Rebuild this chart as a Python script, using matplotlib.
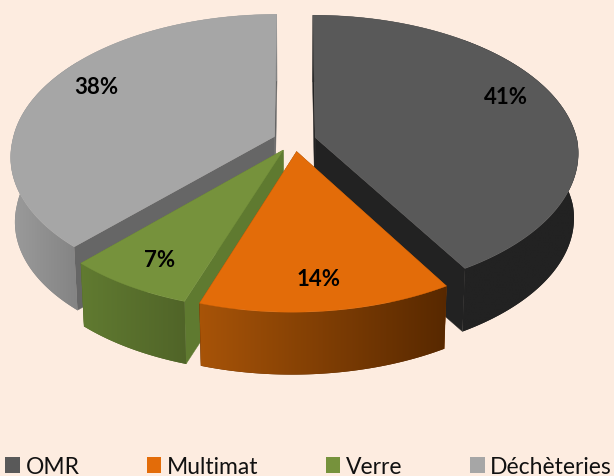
import numpy as np
import matplotlib
matplotlib.use("Agg")
import matplotlib.pyplot as plt
from matplotlib.colors import to_rgb
from matplotlib.patches import Patch, Polygon

# Datos
categorias = ["OMR", "Multimat", "Verre", "Déchèteries"]
valores = [41.3, 13.7, 6.9, 38.1]

# Colores
fondo = "#fdece0"
color_cara = ["#595959", "#e36c09", "#76923c", "#a6a6a6"]
color_pared = ["#222222", "#8a4206", "#5f7a30", "#666666"]
lado_ini = ["#222222", "#a85408", "#617b31", "#9c9c9c"]
lado_fin = ["#222222", "#572800", "#506428", "#848484"]
orden = [3, 0, 2, 1]  # de atras hacia adelante
pos_etiqueta = [(506, 98), (319, 280), (160, 261), (96, 88)]

# Geometria del pastel en pixeles
cx, cy = 294.5, 141.5
rx, ry = 262, 138
persp = 0.1225
sesgo = 5
alto = 65
escala_base = 0.985
explosion_x = 0.082
explosion_y = 0.08


def proyectar(x, y, base=False):
    w = 1 - persp * y
    # el sesgo solo afecta la mitad delantera, los bordes de atras quedan verticales
    sx = cx + rx * x / w - sesgo * np.maximum(y, 0)
    sy = cy + ry * y / w
    if base:
        sx = cx + (sx - cx) * escala_base
        sy = cy + (sy - cy) * escala_base + alto
    return sx, sy


fig = plt.figure(figsize=(6.14, 4.77), dpi=100, facecolor=fondo)
ax = fig.add_axes([0, 0, 1, 1])
ax.axis("off")

fracciones = np.array(valores) / sum(valores)
fin = np.cumsum(fracciones) * 2 * np.pi
inicio = fin - fracciones * 2 * np.pi

z = 1
for i in orden:
    medio = (inicio[i] + fin[i]) / 2
    ox = explosion_x * np.sin(medio)
    oy = -explosion_y * np.cos(medio)
    t = np.linspace(inicio[i], fin[i], 300)
    arco_x, arco_y = ox + np.sin(t), oy - np.cos(t)

    # paredes radiales
    for ang in (inicio[i], fin[i]):
        px, py = ox + np.sin(ang), oy - np.cos(ang)
        a = proyectar(ox, oy)
        b = proyectar(px, py)
        c = proyectar(px, py, True)
        d = proyectar(ox, oy, True)
        ax.fill([a[0], b[0], c[0], d[0]], [a[1], b[1], c[1], d[1]],
                color=color_pared[i], lw=0.3, zorder=z)
    z += 1

    # lado curvo con degradado, solo sobre la parte visible
    sx, sy = proyectar(arco_x, arco_y)
    bx, by = proyectar(arco_x, arco_y, True)
    contorno = np.c_[np.r_[sx, bx[::-1]], np.r_[sy, by[::-1]]]
    visible = arco_y > -0.05
    ini, fn = np.array(to_rgb(lado_ini[i])), np.array(to_rgb(lado_fin[i]))
    pasos = np.linspace(0, 1, 256)[:, None]
    grad = (ini + (fn - ini) * pasos)[None, :, :]
    lado = Polygon(contorno, closed=True, facecolor=lado_fin[i], edgecolor="none", zorder=z)
    ax.add_patch(lado)
    img = ax.imshow(grad, extent=(sx[visible].min() - 2, sx[visible].max() + 2, contorno[:, 1].max(), contorno[:, 1].min()),
                    aspect="auto", interpolation="bilinear", zorder=z + 0.5)
    img.set_clip_path(lado)
    z += 1

    # cara superior
    a = proyectar(ox, oy)
    ax.fill(np.r_[a[0], sx], np.r_[a[1], sy], color=color_cara[i], lw=0.3, zorder=z)
    z += 1

ax.set_xlim(0, 614)
ax.set_ylim(477, 0)

for i, (ex, ey) in enumerate(pos_etiqueta):
    ax.text(ex, ey, f"{round(valores[i])}%", ha="center", va="center", fontsize=16,
            family="Lato", fontweight="bold", color="black", zorder=z)

# Leyenda
manijas = [Patch(facecolor=c, edgecolor="none") for c in color_cara]
fig.legend(manijas, categorias, loc="lower left", bbox_to_anchor=(5 / 614, -1 / 477), ncol=4,
           frameon=False, prop={"family": "Lato", "size": 16.5}, handlelength=0.65, handleheight=0.65,
           handletextpad=0.25, columnspacing=2.92, borderpad=0, borderaxespad=0, labelcolor="#111111")

fig.savefig("out.png", dpi=100, facecolor=fondo)
